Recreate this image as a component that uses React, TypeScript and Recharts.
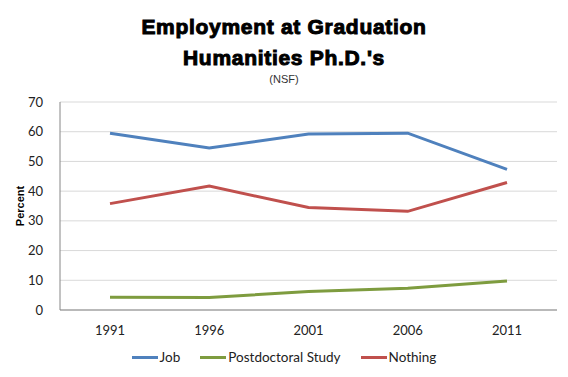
import { LineChart, Line, XAxis, YAxis, CartesianGrid } from 'recharts';

const years = ['1991', '1996', '2001', '2006', '2011'];
const job = [59.5, 54.5, 59.2, 59.5, 47.3];
const postdoc = [4.3, 4.2, 6.2, 7.3, 9.8];
const nothing = [35.8, 41.7, 34.5, 33.2, 42.9];
const yTicks = [0, 10, 20, 30, 40, 50, 60, 70];

const SERIES = [
	{ key: 'job', name: 'Job', color: '#4F81BD' },
	{ key: 'postdoc', name: 'Postdoctoral Study', color: '#7E9C3F' },
	{ key: 'nothing', name: 'Nothing', color: '#C0504D' },
];

const data = years.map((year, i) => ({
	year,
	job: job[i],
	postdoc: postdoc[i],
	nothing: nothing[i],
}));

const tickFont = { fontFamily: 'Lato, sans-serif', fontSize: 13, fill: '#222' };

const App = () => {
	return (
		<div style={{ position: 'absolute', left: 0, top: 0, width: 568, height: 377, background: '#fff' }}>
			<div
				style={{
					position: 'absolute',
					left: 0,
					width: 568,
					top: 11,
					textAlign: 'center',
					fontFamily: '"Liberation Sans", Arial, sans-serif',
					fontWeight: 'bold',
					fontSize: 21,
					lineHeight: '31px',
					letterSpacing: 0.7,
					WebkitTextStroke: '1px #000',
					color: '#000',
				}}
			>
				<div>Employment at Graduation</div>
				<div>Humanities Ph.D.'s</div>
			</div>
			<div
				style={{
					position: 'absolute',
					left: 0,
					width: 568,
					top: 73,
					textAlign: 'center',
					fontFamily: '"Liberation Sans", Arial, sans-serif',
					fontSize: 11,
					color: '#333',
				}}
			>
				(NSF)
			</div>
			<LineChart
				width={568}
				height={377}
				data={data}
				margin={{ top: 102, right: 11, bottom: 37, left: 0 }}
				style={{ position: 'absolute', left: 0, top: 0 }}
			>
				<CartesianGrid vertical={false} stroke='#d9d9d9' />
				<XAxis
					dataKey='year'
					height={30}
					padding={{ left: 50, right: 50 }}
					tickLine={false}
					tickMargin={10}
					stroke='#868686'
					tick={tickFont}
				/>
				<YAxis
					width={60}
					domain={[0, 70]}
					ticks={yTicks}
					tickLine={false}
					tickMargin={11}
					stroke='#868686'
					tick={tickFont}
					label={{
						value: 'Percent',
						angle: -90,
						position: 'center',
						dx: -10,
						style: { fontFamily: '"Liberation Sans", Arial, sans-serif', fontSize: 11, fontWeight: 'bold', fill: '#000' },
					}}
				/>
				{SERIES.map((s) => (
					<Line
						key={s.key}
						dataKey={s.key}
						name={s.name}
						type='linear'
						stroke={s.color}
						strokeWidth={3}
						dot={false}
						isAnimationActive={false}
					/>
				))}
			</LineChart>
			<div
				style={{
					position: 'absolute',
					top: 349,
					left: 0,
					width: 568,
					display: 'flex',
					justifyContent: 'center',
					fontFamily: 'Lato, sans-serif',
					fontSize: 13.5,
					color: '#222',
				}}
			>
				{SERIES.map((s) => (
					<div key={s.key} style={{ display: 'flex', alignItems: 'center', margin: '0 10px' }}>
						<span style={{ display: 'inline-block', width: 26, height: 3, background: s.color, marginRight: 2 }} />
						<span>{s.name}</span>
					</div>
				))}
			</div>
		</div>
	);
};

export default App;
